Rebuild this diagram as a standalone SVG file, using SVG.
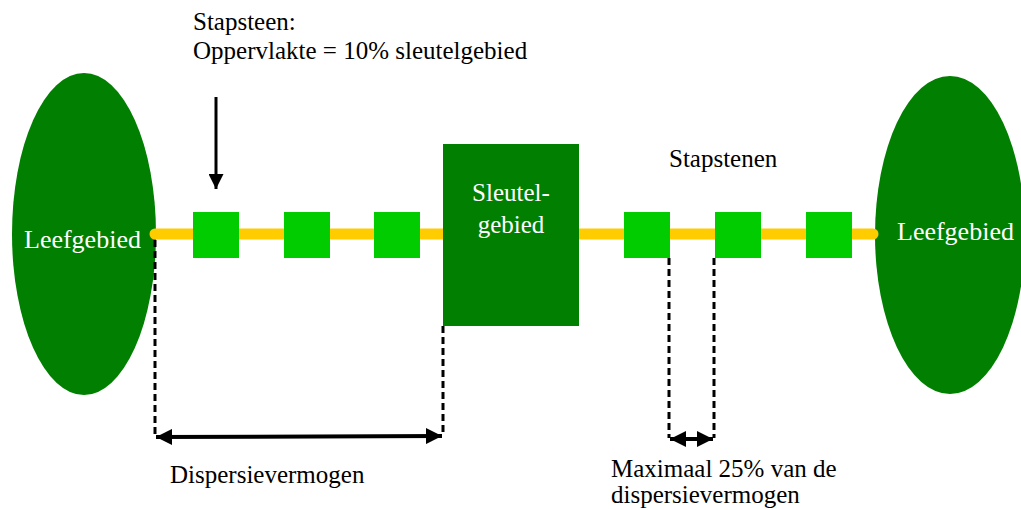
<svg xmlns="http://www.w3.org/2000/svg" width="1021" height="510" viewBox="0 0 1021 510">
  <style>
    text { font-family: "Liberation Serif", "Times New Roman", serif; font-size: 25px; fill: #000; }
    .wt { fill: #fff; }
    .big { font-size: 26px; }
    .area { fill: #007f00; }
    .stone { fill: #00cc00; }
    .dash { stroke: #000; stroke-width: 3; stroke-dasharray: 7 4; fill: none; }
    .dim { stroke: #000; stroke-width: 4; fill: none; }
  </style>
  <defs>
    <marker id="ah" viewBox="0 0 10 10" refX="10" refY="5" markerWidth="6.5" markerHeight="4" markerUnits="strokeWidth" orient="auto-start-reverse">
      <path d="M0,0 L10,5 L0,10 z" fill="#000"/>
    </marker>
    <marker id="ahs" viewBox="0 0 10 10" refX="10" refY="5" markerWidth="4" markerHeight="4" markerUnits="strokeWidth" orient="auto-start-reverse">
      <path d="M0,0 L10,5 L0,10 z" fill="#000"/>
    </marker>
    <marker id="down" viewBox="0 0 10 10" refX="10" refY="5" markerWidth="5" markerHeight="5" markerUnits="strokeWidth" orient="auto">
      <path d="M0,0 L10,5 L0,10 z" fill="#000"/>
    </marker>
  </defs>

  <g id="leefgebied-links">
    <ellipse class="area" cx="84" cy="234" rx="72" ry="161"/>
    <text class="wt big" x="24" y="248">Leefgebied</text>
  </g>

  <g id="leefgebied-rechts">
    <ellipse class="area" cx="950" cy="235" rx="75" ry="159"/>
    <text class="wt big" x="897" y="240">Leefgebied</text>
  </g>

  <!-- corridor -->
  <g id="corridor">
    <line x1="155" y1="234" x2="873" y2="234" stroke="#ffcc00" stroke-width="11" stroke-linecap="round"/>
  </g>

  <g id="sleutelgebied">
    <rect class="area" x="443" y="144" width="136" height="182"/>
    <text class="wt" x="511" y="201" text-anchor="middle">Sleutel-</text>
    <text class="wt" x="511" y="233" text-anchor="middle">gebied</text>
  </g>

  <g id="stapstenen">
    <rect class="stone" x="193" y="212" width="46" height="46"/>
    <rect class="stone" x="284" y="212" width="46" height="46"/>
    <rect class="stone" x="374" y="212" width="46" height="46"/>
    <rect class="stone" x="624" y="212" width="46" height="46"/>
    <rect class="stone" x="715" y="212" width="46" height="46"/>
    <rect class="stone" x="806" y="212" width="46" height="46"/>
  </g>

  <g id="labels">
    <text x="193" y="30">Stapsteen:</text>
    <text x="193" y="59">Oppervlakte = 10% sleutelgebied</text>
    <text x="669" y="167">Stapstenen</text>
    <text x="170" y="483">Dispersievermogen</text>
    <text x="611" y="477">Maximaal 25% van de</text>
    <text x="611" y="503">dispersievermogen</text>
  </g>

  <g id="connectors">
    <line x1="216" y1="97" x2="216" y2="189" stroke="#000" stroke-width="3" marker-end="url(#down)"/>
    <line class="dash" x1="155" y1="240" x2="155" y2="437"/>
    <line class="dash" x1="443" y1="326" x2="443" y2="436"/>
    <line class="dim" x1="156" y1="437" x2="442" y2="436" marker-start="url(#ah)" marker-end="url(#ah)"/>
    <line class="dash" x1="669" y1="258" x2="669" y2="438"/>
    <line class="dash" x1="714" y1="258" x2="714" y2="438"/>
    <line class="dim" x1="670" y1="439" x2="713" y2="439" marker-start="url(#ahs)" marker-end="url(#ahs)"/>
  </g>
</svg>
